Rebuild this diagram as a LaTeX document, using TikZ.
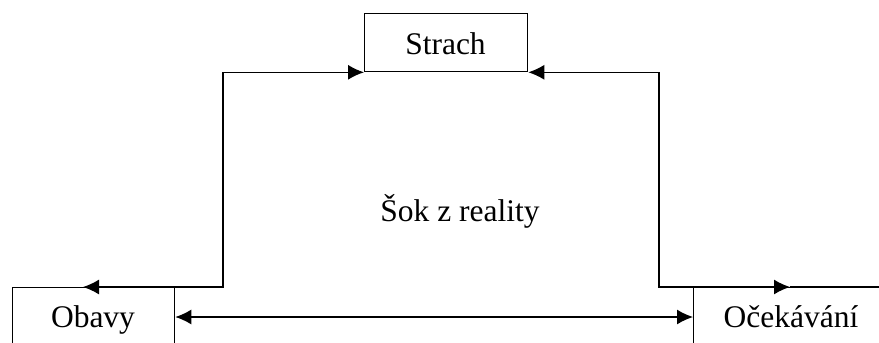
\documentclass[tikz,border=0pt]{standalone}
\usepackage{fontspec}
\setmainfont{Liberation Serif}
\usetikzlibrary{arrows.meta}
\begin{document}
\begin{tikzpicture}[x=1pt,y=-1pt,
  line width=1.3pt,
  biarrow/.style={{Latex[length=16pt,width=15pt]}-{Latex[length=16pt,width=15pt]}},
  boxnode/.style={draw, rectangle, inner sep=0pt, anchor=north west},
  lbl/.style={font=\fontsize{31.5}{38}\selectfont, anchor=base, inner sep=0pt}]
\useasboundingbox (0,0) rectangle (879,343);
% boxes
\node[boxnode, minimum width=163pt, minimum height=58pt] (strach) at (364,13) {};
\node[boxnode, minimum width=162pt, minimum height=120pt] (obavy) at (12,287) {};
\node[boxnode, minimum width=250pt, minimum height=120pt] (ocek) at (693,287) {};
% texts
\node[lbl] (tstrach) at (445.5,54) {Strach};
\node[lbl] (tobavy) at (93,327) {Obavy};
\node[lbl] (tocek) at (791,327) {Očekávání};
\node[lbl] (tsok) at (460,221) {Šok z reality};
% connector coordinates
\coordinate (lcorner) at (223,287);
\coordinate (ltip) at (83,287);
\coordinate (rcorner) at (659,287);
\coordinate (rtip) at (790,287);
\coordinate (redge) at (879,287);
% left path
\draw[biarrow] (ltip) -- (lcorner) |- (strach.south west);
% right path
\draw[biarrow] (strach.south east) -| (rcorner) -- (rtip);
\draw (rtip) -- (redge);
% double arrow
\draw[biarrow] (obavy.north east |- 0,317) -- (ocek.north west |- 0,317);
\end{tikzpicture}
\end{document}
